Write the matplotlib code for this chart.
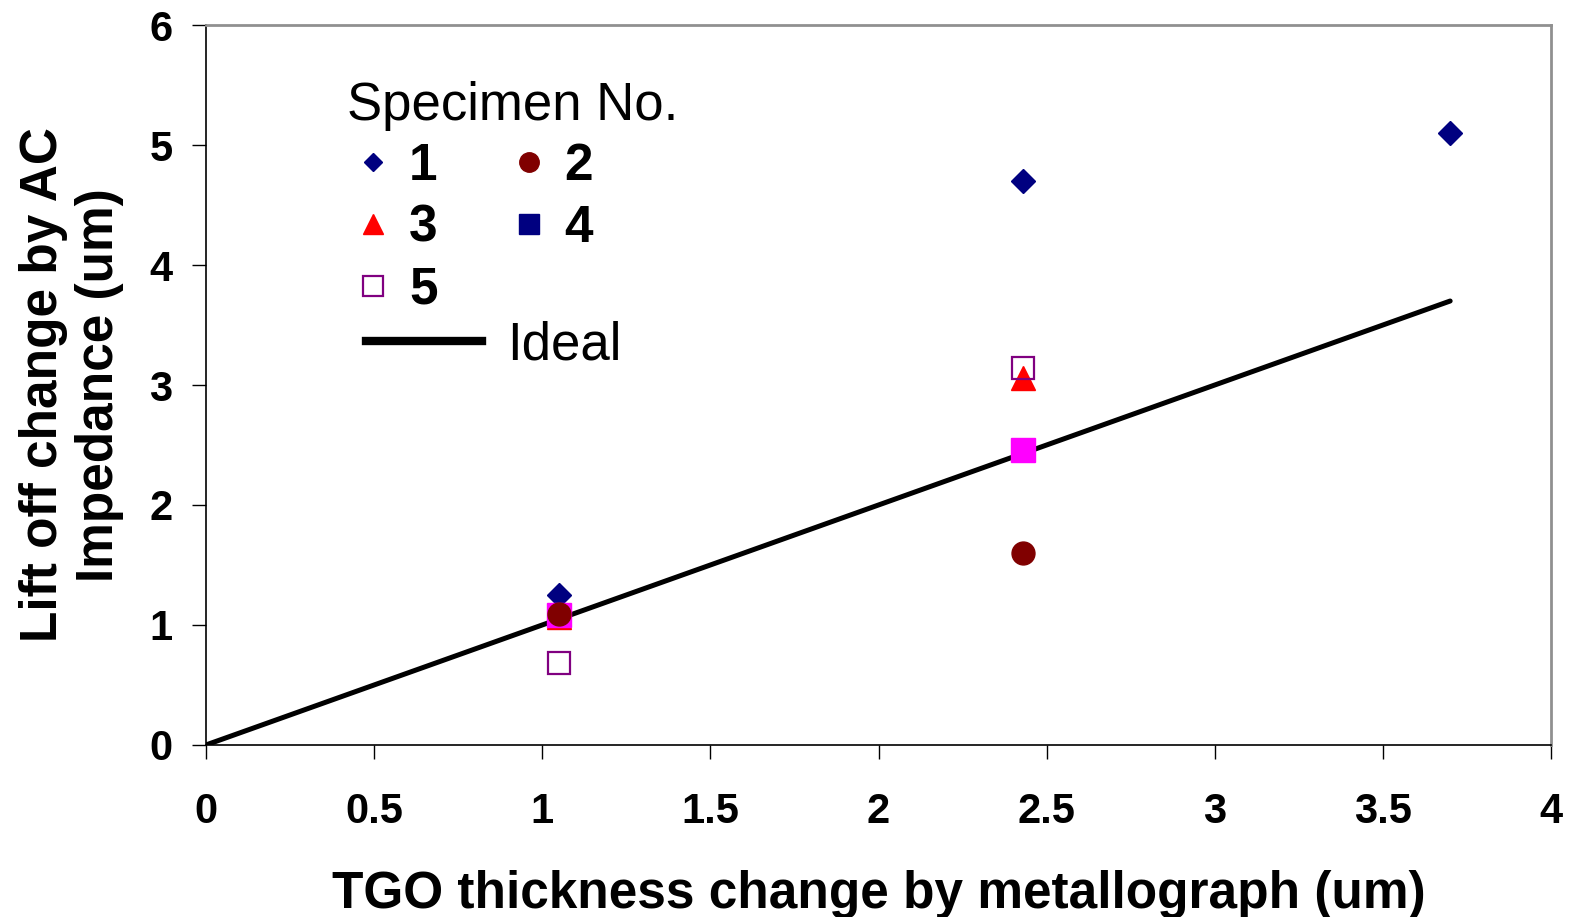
import matplotlib.pyplot as plt
from matplotlib.lines import Line2D

plt.rcParams["font.family"] = ["Liberation Sans", "DejaVu Sans"]

# measured values (um)
x_s1 = [1.05, 2.43, 3.70]
y_s1 = [1.25, 4.70, 5.10]
x_s2 = [1.05, 2.43]
y_s2 = [1.09, 1.60]
x_s3 = [1.05, 2.43]
y_s3 = [1.07, 3.06]
x_s4 = [1.05, 2.43]
y_s4 = [1.08, 2.46]
x_s5 = [1.05, 2.43]
y_s5 = [0.68, 3.14]
x_ideal = [0.0, 3.7]
y_ideal = [0.0, 3.7]

x_ticks = [0, 0.5, 1, 1.5, 2, 2.5, 3, 3.5, 4]
x_tick_labels = ["0", "0.5", "1", "1.5", "2", "2.5", "3", "3.5", "4"]
y_ticks = [0, 1, 2, 3, 4, 5, 6]


def main() -> None:
    fig = plt.figure(figsize=(15.71, 9.17), dpi=100)
    ax = fig.add_axes([0.1311, 0.1876, 0.8562, 0.7851])

    ax.plot(x_ideal, y_ideal, color="black", linewidth=3.6, solid_capstyle="round", zorder=2)
    ax.plot(x_s1, y_s1, "D", color="#000080", markersize=12, linestyle="none", zorder=3)
    ax.plot(x_s3, y_s3, "^", color="#ff0000", markersize=17, linestyle="none", zorder=3)
    ax.plot(x_s4, y_s4, "s", color="#ff00ff", markersize=17, linestyle="none", zorder=3)
    ax.plot(x_s2, y_s2, "o", color="#800000", markersize=16.5, linestyle="none", zorder=4)
    ax.plot(x_s5, y_s5, "s", markerfacecolor="none", markeredgecolor="#800080",
            markeredgewidth=1.6, markersize=16, linestyle="none", zorder=3)

    ax.set_xlim(0, 4)
    ax.set_ylim(0, 6)
    ax.set_xticks(x_ticks)
    ax.set_xticklabels(x_tick_labels)
    ax.set_yticks(y_ticks)
    ax.tick_params(direction="out", length=10, width=1, labelsize=30, color="black")
    ax.tick_params(axis="x", pad=24)
    ax.tick_params(axis="y", pad=14)
    for lab in ax.get_xticklabels() + ax.get_yticklabels():
        lab.set_fontweight("bold")

    for side in ("left", "bottom"):
        ax.spines[side].set_color("black")
        ax.spines[side].set_linewidth(1.2)
    for side in ("top", "right"):
        ax.spines[side].set_color("#909090")
        ax.spines[side].set_linewidth(2)

    ax.set_xlabel("TGO thickness change by metallograph (um)", fontsize=37,
                  fontweight="bold", labelpad=27)
    ax.set_ylabel("Lift off change by AC\nImpedance (um)", fontsize=37,
                  fontweight="bold", labelpad=18, linespacing=1.2)

    handles = [
        Line2D([], [], marker="D", color="#000080", linestyle="none", markersize=9.5),
        Line2D([], [], marker="^", color="#ff0000", linestyle="none", markersize=14),
        Line2D([], [], marker="s", markerfacecolor="none", markeredgecolor="#800080",
               markeredgewidth=1.6, linestyle="none", markersize=14),
        Line2D([], [], marker="o", color="#800000", linestyle="none", markersize=14),
        Line2D([], [], marker="s", color="#000080", linestyle="none", markersize=14),
    ]
    labels = ["1", "3", "5", "2", "4"]
    leg = ax.legend(handles, labels, ncol=2, title="Specimen No.", frameon=False,
                    loc="upper left", bbox_to_anchor=(0.086, 0.958),
                    prop={"size": 37, "weight": "bold"}, title_fontsize=38,
                    handlelength=1.0, handletextpad=0.2, columnspacing=1.27,
                    labelspacing=0.25, borderpad=0.0)
    leg._legend_box.align = "left"
    leg._legend_box.sep = 8
    ax.add_artist(leg)

    ideal_handle = Line2D([], [], color="black", linewidth=6)
    ax.legend([ideal_handle], ["Ideal"], frameon=False, loc="upper left",
              bbox_to_anchor=(0.0996, 0.626), prop={"size": 38},
              handlelength=2.2, handletextpad=0.47, borderpad=0.0)

    fig.savefig("out.png", dpi=100)
    plt.close(fig)


if __name__ == "__main__":
    main()
